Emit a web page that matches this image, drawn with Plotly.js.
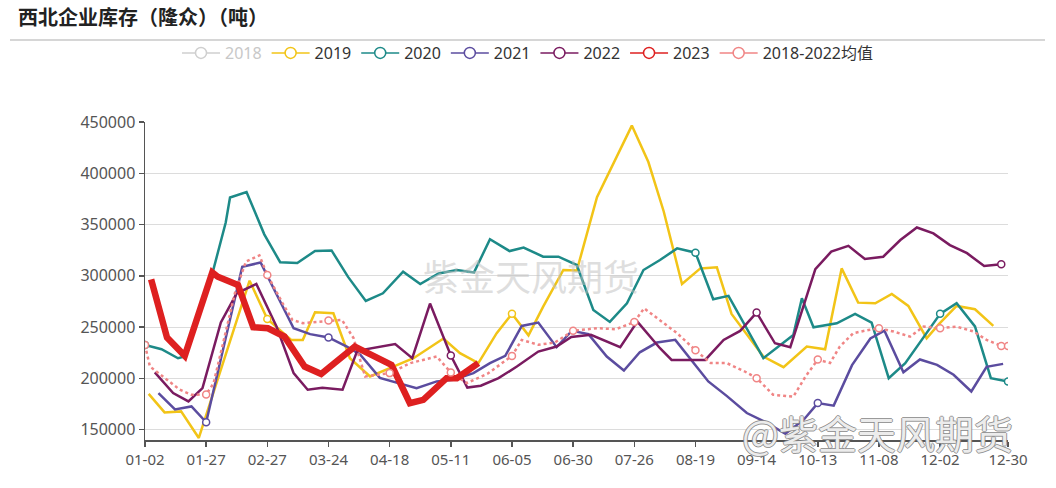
<!DOCTYPE html>
<html><head><meta charset="utf-8">
<script src="https://cdn.plot.ly/plotly-3.0.1.min.js"></script>
<style>html,body{margin:0;padding:0;background:#fff}#chart{width:1056px;height:488px}</style>
</head><body><div id="chart"></div>
<script>
// category tick labels (x unit = one label interval)
const tickLabels = ['01-02','01-27','02-27','03-24','04-18','05-11','06-05','06-30','07-26','08-19','09-14','10-13','11-08','12-02','12-30'];
const xEnd = 14.11;

const x2019 = [0.06,0.32,0.59,0.88,1.71,2,2.39,2.58,2.78,3.08,3.35,3.68,4.06,4.39,4.88,5.15,5.45,5.75,6,6.27,6.51,6.84,7.06,7.39,7.96,8.23,8.48,8.78,9.08,9.35,9.59,10.11,10.44,10.82,11.12,11.39,11.66,11.94,12.21,12.48,12.78,12.98,13.27,13.57,13.87];
const y2019 = [185000,166900,167900,142000,295300,258000,237600,237600,264500,263600,219700,201900,211600,219700,239000,224700,215000,244100,263000,242000,270000,305700,305200,376700,446500,411000,363000,292100,307300,308300,262900,221400,211000,231100,228500,307300,273900,273300,282300,270700,239200,253000,270700,267500,251200];

const x2020 = [0,0.27,0.54,0.65,1.1,1.32,1.39,1.66,1.95,2.21,2.49,2.78,3.05,3.32,3.61,3.89,4.22,4.5,4.8,5.1,5.38,5.64,5.96,6.19,6.51,6.76,7.06,7.33,7.6,7.88,8.15,8.42,8.7,9,9.29,9.54,10.11,10.6,10.74,10.93,11.31,11.61,11.88,12.16,12.43,13,13.27,13.57,13.83,14.11];
const y2020 = [232700,228500,219700,221500,302000,352000,376400,381800,340500,313300,312500,324300,324800,299000,275500,283000,304100,292100,302400,305700,303400,335700,324200,327600,318700,318700,310600,266800,255100,273300,305700,315400,326800,322600,277200,280500,219700,242400,278100,249900,253800,263000,254500,200300,214900,263000,273300,250700,200300,197000];

const x2021 = [0.22,0.49,0.76,1,1.59,1.89,2.43,2.7,3,3.3,3.52,3.84,4.44,4.77,5.04,5.37,5.64,5.89,6.16,6.43,6.73,6.98,7.25,7.55,7.83,8.09,8.37,8.67,9.21,9.51,9.84,10.17,10.47,10.77,11,11.26,11.56,11.86,12.09,12.4,12.67,12.95,13.22,13.51,13.76,14.03];
const y2021 = [185800,169800,172700,157300,308900,313000,249000,243200,240000,231100,223100,200600,190600,197100,198700,205200,214900,222000,251200,254500,230500,246500,243200,221400,207800,225500,235000,237600,197100,183000,166300,156600,146000,159800,176000,173500,213000,239000,246500,206000,218500,213300,203600,187300,211300,214200];

const x2022 = [0.16,0.46,0.71,0.94,1.24,1.5,1.82,2.15,2.43,2.66,2.9,3.23,3.47,3.77,4.09,4.37,4.66,5,5.27,5.49,5.78,6.08,6.43,6.73,6.97,7.29,7.77,8.05,8.42,8.61,9.16,9.46,9.73,10,10.3,10.55,10.96,11.22,11.5,11.77,12.07,12.35,12.62,12.89,13.16,13.44,13.72,14];
const y2022 = [206000,185800,177600,190600,254600,283000,292100,250600,205200,189000,191000,189000,227000,230500,233500,219700,273000,222300,191100,192900,200300,211600,226200,231100,240500,242500,230500,255400,229500,218100,218100,237600,246300,264200,234300,230500,306600,323600,329300,316400,318700,334900,347200,341400,330000,322100,309700,311300];

const x2023 = [0.1,0.36,0.65,1.1,1.19,1.52,1.77,2.01,2.28,2.61,2.88,3.43,4.03,4.33,4.55,4.93,5.1,5.45];
const y2023 = [296600,239900,222000,303400,299200,291100,249900,248900,240800,211600,204300,231100,213300,175900,179200,200300,200300,215000];

const xAvg = [0,0.08,0.57,0.76,1,1.12,1.47,1.65,1.87,2,2.25,2.41,2.58,3,3.22,3.41,3.6,4,4.34,4.77,5,5.26,5.6,6,6.16,6.43,6.7,7,7.39,7.7,8,8.16,8.42,8.7,9,9.25,9.51,9.8,10,10.27,10.6,10.8,11,11.2,11.36,11.58,11.83,12,12.24,12.51,12.73,13,13.27,13.55,13.76,14,14.11];
const yAvg = [232700,211700,189000,184100,184400,195000,283100,314000,320000,300900,273300,257000,253900,256400,257100,239300,201900,205200,215000,221400,205900,195500,204600,222000,237600,232800,235000,246500,249000,248000,255000,268400,257100,244100,227500,215000,215000,207000,200300,184100,182200,201900,218400,215000,231100,244100,247300,248900,245700,240800,250600,248900,250600,245700,237600,231700,231700];

const seriesNames = ['2018','2019','2020','2021','2022','2023','2018-2022均值'];
const colors = {'2018':'#cfcfcf','2019':'#f2c417','2020':'#1d8a88','2021':'#5b4c9f','2022':'#7a1b60','2023':'#de2020','2018-2022均值':'#f08585'};

const series = [
  {name:'2019', x:x2019, y:y2019, width:2.5, dash:'solid'},
  {name:'2020', x:x2020, y:y2020, width:2.5, dash:'solid'},
  {name:'2021', x:x2021, y:y2021, width:2.5, dash:'solid'},
  {name:'2022', x:x2022, y:y2022, width:2.5, dash:'solid'},
  {name:'2018-2022均值', x:xAvg, y:yAvg, width:2.5, dash:'dot'},
  {name:'2023', x:x2023, y:y2023, width:6.5, dash:'solid'}
];

const traces = [];
// legend entries
seriesNames.forEach(n => {
  traces.push({
    type:'scatter', mode:'lines+markers', x:[null], y:[null], legendgroup:n,
    name: n === '2018' ? '<span style="color:#c8c8c8">2018</span>' : n,
    line:{color:colors[n], width:1.5},
    marker:{symbol:'circle', size:11, color:'#fff', line:{color:colors[n], width:1.5}},
    hoverinfo:'skip', showlegend:true
  });
});
// lines
series.forEach(s => {
  traces.push({
    type:'scatter', mode:'lines', x:s.x, y:s.y, legendgroup:s.name, showlegend:false,
    line:{color:colors[s.name], width:s.width, dash:s.dash}, hoverinfo:'skip'
  });
});
// symbols shown at label positions
const isMark = v => Number.isInteger(v) || v === xEnd;
series.forEach(s => {
  const mx = [], my = [];
  s.x.forEach((v,i) => { if (isMark(v)) { mx.push(v); my.push(s.y[i]); } });
  if (mx.length && s.name !== '2023') {
    traces.push({
      type:'scatter', mode:'markers', x:mx, y:my, legendgroup:s.name, showlegend:false,
      marker:{symbol:'circle', size:7, color:'#fff', line:{color:colors[s.name], width:1.5}},
      hoverinfo:'skip'
    });
  }
});

const tickVals = tickLabels.map((t,i) => i === tickLabels.length-1 ? xEnd : i);

const layout = {
  width:1056, height:488,
  margin:{l:145, r:48, t:122, b:48},
  paper_bgcolor:'#fff', plot_bgcolor:'#fff',
  font:{family:'Noto Sans, "Noto Sans CJK SC", sans-serif', color:'#555'},
  title:{text:'西北企业库存（隆众）（吨）', font:{family:'"Noto Sans CJK SC", sans-serif', size:20, color:'#222', weight:'bold'},
    xref:'container', x:18/1056, xanchor:'left', yref:'container', y:1-18/488, yanchor:'middle'},
  showlegend:true,
  legend:{orientation:'h', xref:'container', x:0.5, xanchor:'center', yref:'container', y:1-53/488, yanchor:'middle',
    font:{size:16, color:'#333'}, itemwidth:38, traceorder:'normal', bgcolor:'rgba(0,0,0,0)'},
  xaxis:{range:[0, xEnd], tickvals:tickVals, ticktext:tickLabels, showline:true, linecolor:'#555', linewidth:1.5,
    ticks:'outside', ticklen:5, tickcolor:'#555', tickwidth:1.5, showgrid:false, zeroline:false,
    tickfont:{size:15, color:'#555'}, fixedrange:true},
  yaxis:{range:[140000,450000], tick0:0, dtick:50000, tickformat:'d', showline:true, linecolor:'#555', linewidth:1.5,
    ticks:'outside', ticklen:5, tickcolor:'#555', tickwidth:1.5, gridcolor:'#dcdcdc', gridwidth:1.2, zeroline:false,
    tickfont:{size:16, color:'#555'}, fixedrange:true},
  shapes:[{type:'line', xref:'paper', yref:'paper', x0:-0.1564, x1:1.0429, y0:1.2579, y1:1.2579, line:{color:'#c8c8c8', width:1.5}}],
  annotations:[
    {text:'紫金天风期货', xref:'paper', yref:'paper', x:0.447, y:0.519, xanchor:'center', yanchor:'middle', showarrow:false,
      font:{family:'"Noto Sans CJK SC", sans-serif', size:36, color:'rgba(190,190,190,0.5)'}},
    {text:'@紫金天风期货', xref:'paper', yref:'paper', x:0.849, y:0.025, xanchor:'center', yanchor:'middle', showarrow:false,
      font:{family:'"Noto Sans CJK SC", sans-serif', size:39, color:'rgba(255,255,255,0.85)',
        shadow:'1px 0 0 #888, -1px 0 0 #888, 0 1px 0 #888, 0 -1px 0 #888'}}
  ]
};

Plotly.newPlot('chart', traces, layout, {staticPlot:true, displayModeBar:false});
</script>
</body></html>
